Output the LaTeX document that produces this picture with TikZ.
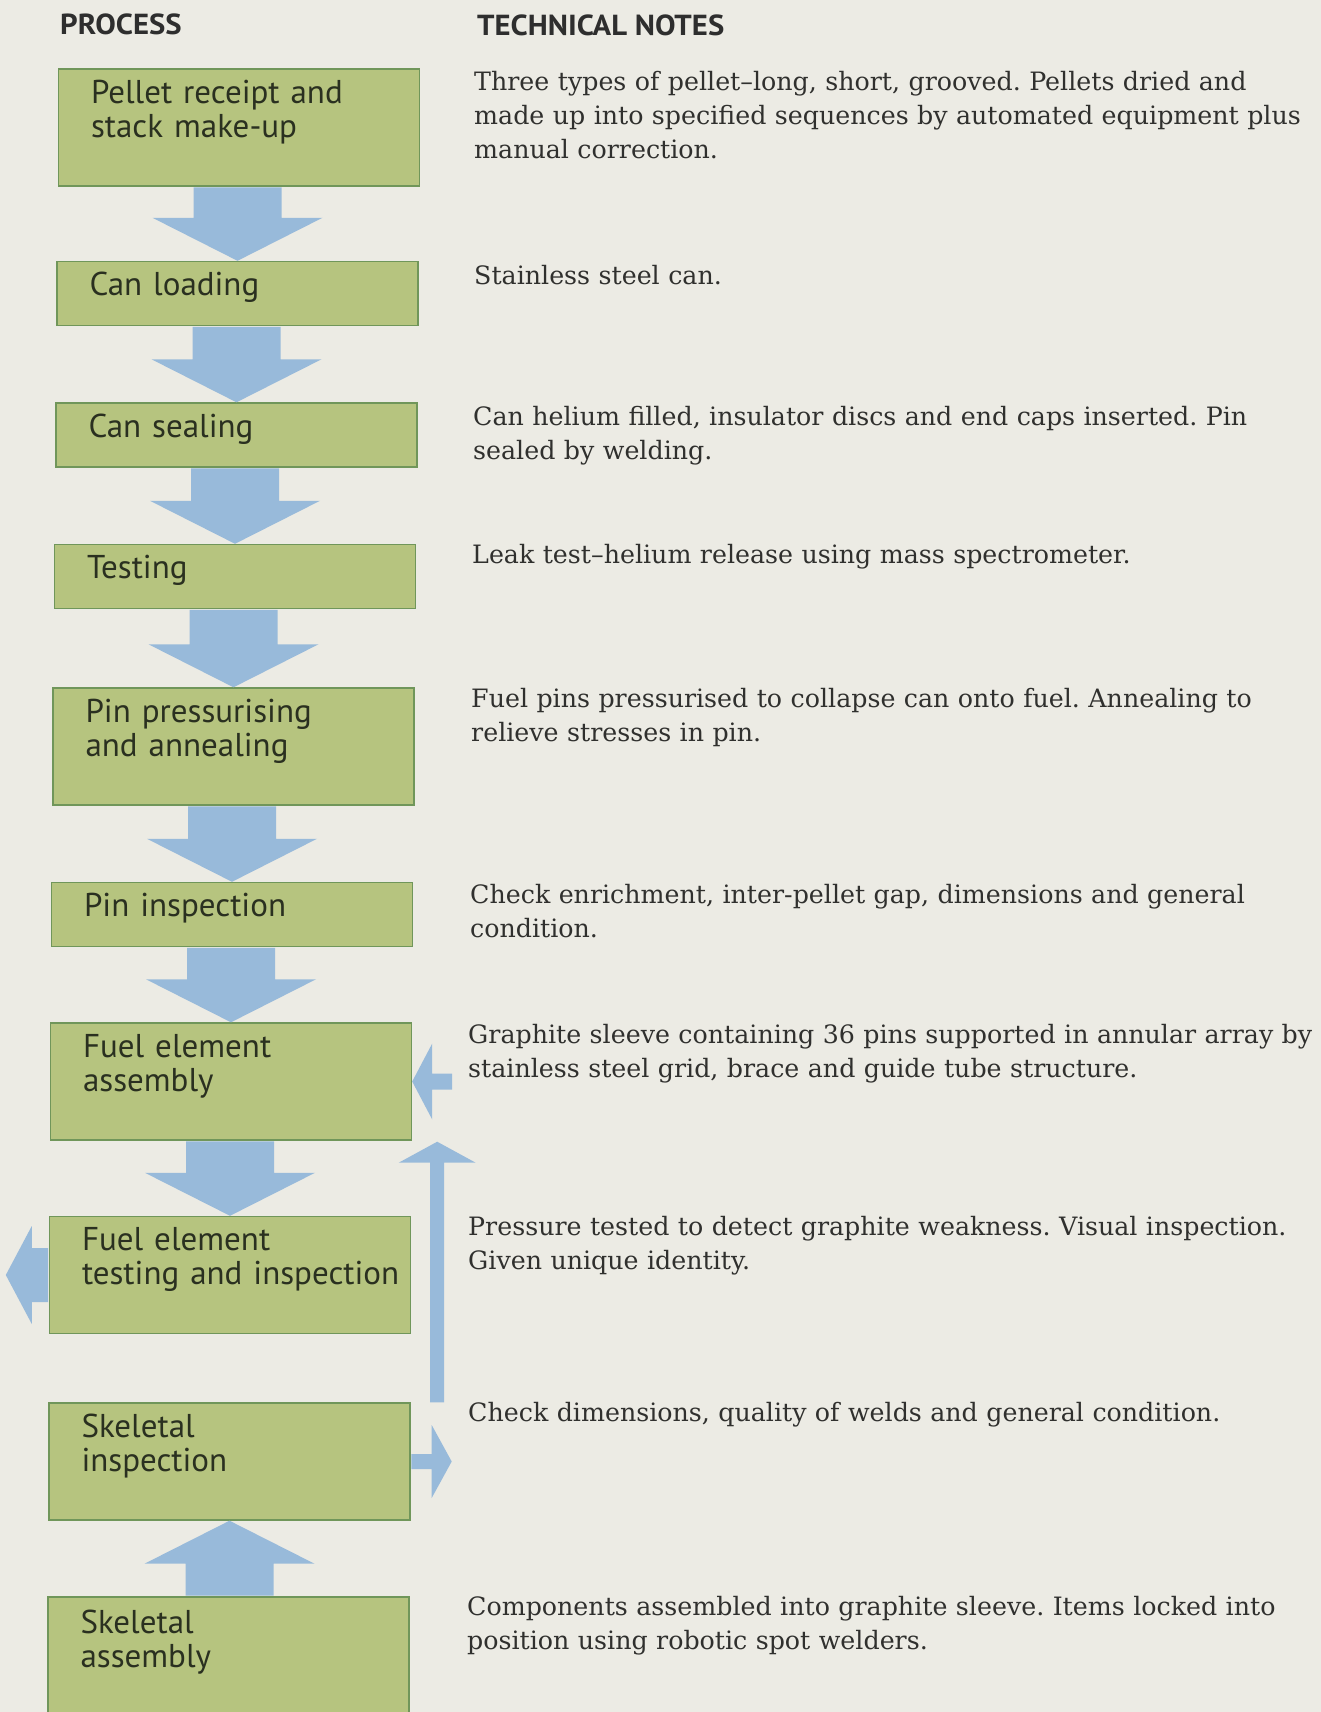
\documentclass[tikz,border=0pt]{standalone}
\usepackage{fontspec}
\setmainfont{DejaVu Serif}
\setsansfont{PT Sans}
\usetikzlibrary{calc,backgrounds}

\definecolor{paper}{RGB}{236,235,228}
\definecolor{stagefill}{RGB}{182,196,127}
\definecolor{stageline}{RGB}{112,150,90}
\definecolor{flowblue}{RGB}{152,186,218}
\definecolor{noteink}{RGB}{48,48,46}
\definecolor{stageink}{RGB}{42,48,32}

\frenchspacing

\begin{document}
\begin{tikzpicture} [x=1pt,y=1pt,background rectangle/.style={fill=paper},
			show background rectangle,inner frame sep=0pt,
			stagebox/.style={draw=stageline,line width=1.4pt,fill=stagefill,minimum width=361pt,inner sep=0pt},
			tallbox/.style={stagebox,minimum height=117pt},
			lowbox/.style={stagebox,minimum height=64pt},
			stagetext/.style={anchor=base west,inner sep=0pt,text width=345pt,align=left,text=stageink,
				font=\sffamily\fontsize{33}{34}\selectfont},
			headtext/.style={anchor=base west,inner sep=0pt,text=black!82,
				font=\sffamily\bfseries\fontsize{29}{30}\selectfont\addfontfeature{FakeStretch=1.06}},
			notetext/.style={anchor=base west,inner sep=0pt,text width=880pt,align=left,text=noteink,
				font=\fontsize{25.3}{34}\selectfont},
			flowarrow/.style={fill=flowblue}]

		\useasboundingbox (0,0) rectangle (1321,-1712);

		\node [headtext] (hproc) at (60,-35) {PROCESS};
		\node [headtext] (hnotes) at (477,-36) {TECHNICAL NOTES};

		% process stages
		\node [tallbox] (b1) at (239,-127.5) {};
		\node [lowbox] (b2) at (237.5,-293.5) {};
		\node [lowbox] (b3) at (236.5,-435) {};
		\node [lowbox] (b4) at (235,-576.5) {};
		\node [tallbox] (b5) at (233.5,-746.5) {};
		\node [lowbox] (b6) at (232,-914.5) {};
		\node [tallbox] (b7) at (231,-1081.5) {};
		\node [tallbox] (b8) at (230,-1275) {};
		\node [tallbox] (b9) at (229.5,-1461.5) {};
		\node [tallbox] (b10) at (228.5,-1655.5) {};

		\node [stagetext] (t1) at ($(b1.north west)+(33,-35)$) {Pellet receipt and\\stack make-up};
		\node [stagetext] (t2) at ($(b2.north west)+(33,-35)$) {Can loading};
		\node [stagetext] (t3) at ($(b3.north west)+(33,-35)$) {Can sealing};
		\node [stagetext] (t4) at ($(b4.north west)+(33,-35)$) {Testing};
		\node [stagetext] (t5) at ($(b5.north west)+(33,-35)$) {Pin pressurising\\and annealing};
		\node [stagetext] (t6) at ($(b6.north west)+(33,-35)$) {Pin inspection};
		\node [stagetext] (t7) at ($(b7.north west)+(33,-35)$) {Fuel element\\assembly};
		\node [stagetext] (t8) at ($(b8.north west)+(33,-35)$) {Fuel element\\testing and inspection};
		\node [stagetext] (t9) at ($(b9.north west)+(33,-35)$) {Skeletal\\inspection};
		\node [stagetext] (t10) at ($(b10.north west)+(33,-37)$) {Skeletal\\assembly};

		% technical notes
		\node [notetext] (n1) at (474,-90.5) {Three types of pellet–long, short, grooved. Pellets dried and\\made up into specified sequences by automated equipment plus\\manual correction.};
		\node [notetext] (n2) at (474,-284) {Stainless steel can.};
		\node [notetext] (n3) at (473,-425) {Can helium filled, insulator discs and end caps inserted. Pin\\sealed by welding.};
		\node [notetext] (n4) at (472,-563) {Leak test–helium release using mass spectrometer.};
		\node [notetext] (n5) at (471,-707) {Fuel pins pressurised to collapse can onto fuel. Annealing to\\relieve stresses in pin.};
		\node [notetext] (n6) at (470,-903) {Check enrichment, inter-pellet gap, dimensions and general\\condition.};
		\node [notetext] (n7) at (468,-1043) {Graphite sleeve containing 36 pins supported in annular array by\\stainless steel grid, brace and guide tube structure.};
		\node [notetext] (n8) at (468,-1235) {Pressure tested to detect graphite weakness. Visual inspection.\\Given unique identity.};
		\node [notetext] (n9) at (468,-1421) {Check dimensions, quality of welds and general condition.};
		\node [notetext] (n10) at (467,-1615) {Components assembled into graphite sleeve. Items locked into\\position using robotic spot welders.};

		% main line down
		\foreach \src/\dst in {b1/b2,b2/b3,b3/b4,b4/b5,b5/b6,b6/b7,b7/b8}
			\fill [flowarrow] ($(\dst.north |- \src.south)+(-44,-0.7)$) -- ($(\dst.north)+(-44,43)$)
				-- ($(\dst.north)+(-85,43)$) -- (\dst.north) -- ($(\dst.north)+(85,43)$)
				-- ($(\dst.north)+(44,43)$) -- ($(\dst.north |- \src.south)+(44,-0.7)$) -- cycle;

		% skeletal assembly up into inspection
		\fill [flowarrow] ($(b9.south |- b10.north)+(-44,0.7)$) -- ($(b9.south)+(-44,-43)$)
			-- ($(b9.south)+(-85,-43)$) -- (b9.south) -- ($(b9.south)+(85,-43)$)
			-- ($(b9.south)+(44,-43)$) -- ($(b9.south |- b10.north)+(44,0.7)$) -- cycle;

		% side feed into fuel element assembly
		\coordinate (feed) at ($(b7.east)+(40,0)$);
		\fill [flowarrow] (b7.east) -- ($(b7.east)+(20,38)$) -- ($(b7.east)+(20,8)$) -- ($(feed)+(0,8)$)
			-- ($(feed)+(0,-8)$) -- ($(b7.east)+(20,-8)$) -- ($(b7.east)+(20,-38)$) -- cycle;

		% out of testing and inspection
		\coordinate (out) at ($(b8.west)+(-43,0)$);
		\fill [flowarrow] ($(b8.west)+(-0.7,27)$) -- ($(b8.west)+(-17,27)$) -- ($(b8.west)+(-17,49)$) -- (out)
			-- ($(b8.west)+(-17,-49)$) -- ($(b8.west)+(-17,-27)$) -- ($(b8.west)+(-0.7,-27)$) -- cycle;

		% skeletal inspection out to the side
		\coordinate (side) at ($(b9.east)+(41,0)$);
		\fill [flowarrow] ($(b9.east)+(0.7,7.5)$) -- ($(b9.east)+(21,7.5)$) -- ($(b9.east)+(21,36.5)$) -- (side)
			-- ($(b9.east)+(21,-36.5)$) -- ($(b9.east)+(21,-7.5)$) -- ($(b9.east)+(0.7,-7.5)$) -- cycle;

		% return line up to fuel element assembly
		\coordinate (ret0) at ($(b9.north east)+(25,0)$);
		\coordinate (ret1) at ($(b7.south east)+(25,-1)$);
		\fill [flowarrow] ($(ret1 |- ret0)+(-7,0)$) -- ($(ret1)+(-7,-21)$) -- ($(ret1)+(-38.5,-21)$) -- (ret1)
			-- ($(ret1)+(38.5,-21)$) -- ($(ret1)+(7,-21)$) -- ($(ret1 |- ret0)+(7,0)$) -- cycle;

		\end{tikzpicture}
\end{document}
